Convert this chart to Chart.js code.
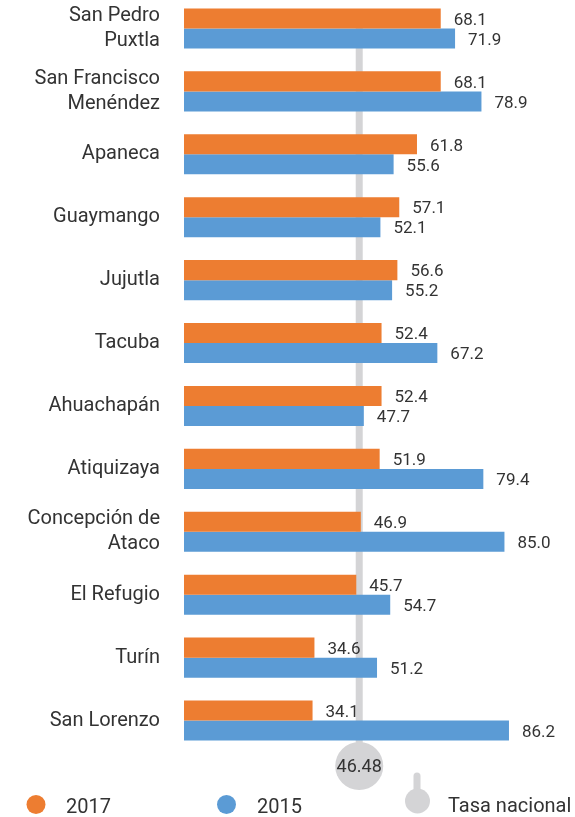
<!DOCTYPE html>
<html>
<head>
<meta charset="utf-8">
<script src="https://cdn.jsdelivr.net/npm/chart.js@4"></script>
<style>
    html, body { margin: 0; padding: 0; background: #fff; }
    #wrap { position: relative; width: 575px; height: 817px; overflow: hidden; }
    #box { position: absolute; left: 0; top: -3px; width: 575px; height: 820px; }
</style>
</head>
<body>
<div id="wrap"><div id="box"><canvas id="chart"></canvas></div></div>
<script>
// --- Data ---
const municipios = [
    ['San Pedro', 'Puxtla'], ['San Francisco', 'Menéndez'], 'Apaneca', 'Guaymango', 'Jujutla', 'Tacuba',
    'Ahuachapán', 'Atiquizaya', ['Concepción de', 'Ataco'], 'El Refugio', 'Turín', 'San Lorenzo'
];
const valores2017 = [68.1, 68.1, 61.8, 57.1, 56.6, 52.4, 52.4, 51.9, 46.9, 45.7, 34.6, 34.1];
const valores2015 = [71.9, 78.9, 55.6, 52.1, 55.2, 67.2, 47.7, 79.4, 85.0, 54.7, 51.2, 86.2];
const tasaNacional = 46.48;
const serieNombres = ['2017', '2015', 'Tasa nacional'];

const ORANGE = '#ED7D31';
const BLUE = '#5B9BD5';
const GRAY = '#D4D4D6';
const TEXT = '#333333';
const FONT = 'Roboto, "Noto Sans", sans-serif';

// --- Value labels next to each bar ---
const valueLabels = {
    id: 'valueLabels',
    afterDatasetsDraw(chart) {
        const ctx = chart.ctx;
        ctx.save();
        ctx.font = '17px ' + FONT;
        ctx.fillStyle = TEXT;
        ctx.textAlign = 'left';
        ctx.textBaseline = 'middle';
        chart.data.datasets.forEach((ds, i) => {
            chart.getDatasetMeta(i).data.forEach((bar, j) => {
                ctx.fillText(ds.data[j].toFixed(1), bar.x + 13, bar.y + 2);
            });
        });
        ctx.restore();
    }
};

// --- National rate line with bubble ---
const nationalLine = {
    id: 'nationalLine',
    beforeDatasetsDraw(chart) {
        const ctx = chart.ctx;
        const area = chart.chartArea;
        const x = chart.scales.x.getPixelForValue(tasaNacional);
        const cy = area.bottom + 14;
        ctx.save();
        ctx.strokeStyle = GRAY;
        ctx.lineWidth = 7;
        ctx.beginPath();
        ctx.moveTo(x, area.top + 12);
        ctx.lineTo(x, cy);
        ctx.stroke();
        ctx.fillStyle = GRAY;
        ctx.beginPath();
        ctx.arc(x, cy, 24, 0, Math.PI * 2);
        ctx.fill();
        ctx.fillStyle = TEXT;
        ctx.font = '18px ' + FONT;
        ctx.textAlign = 'center';
        ctx.textBaseline = 'middle';
        ctx.fillText(tasaNacional.toFixed(2), x, cy + 1);
        ctx.restore();
    }
};

// --- Custom legend at the bottom ---
const bottomLegend = {
    id: 'bottomLegend',
    afterDraw(chart) {
        const ctx = chart.ctx;
        ctx.save();
        ctx.font = '20px ' + FONT;
        ctx.fillStyle = TEXT;
        ctx.textAlign = 'left';
        ctx.textBaseline = 'alphabetic';

        // series dots
        [[36, ORANGE, 66], [226.5, BLUE, 257]].forEach(([cx, color, tx], i) => {
            ctx.fillStyle = color;
            ctx.beginPath();
            ctx.arc(cx, 807.5, 9.5, 0, Math.PI * 2);
            ctx.fill();
            ctx.fillStyle = TEXT;
            ctx.fillText(serieNombres[i], tx, 815.5);
        });

        // national rate icon
        ctx.strokeStyle = GRAY;
        ctx.fillStyle = GRAY;
        ctx.lineWidth = 7;
        ctx.lineCap = 'round';
        ctx.beginPath();
        ctx.moveTo(417, 779);
        ctx.lineTo(417, 800);
        ctx.stroke();
        ctx.beginPath();
        ctx.arc(417.5, 804, 12.5, 0, Math.PI * 2);
        ctx.fill();
        ctx.fillStyle = TEXT;
        ctx.fillText(serieNombres[2], 448, 814.5);
        ctx.restore();
    }
};

const ctx = document.getElementById('chart').getContext('2d');
new Chart(ctx, {
    type: 'bar',
    data: {
        labels: municipios,
        datasets: [
            { label: serieNombres[0], data: valores2017, backgroundColor: ORANGE },
            { label: serieNombres[1], data: valores2015, backgroundColor: BLUE }
        ]
    },
    options: {
        indexAxis: 'y',
        responsive: true,
        maintainAspectRatio: false,
        animation: false,
        datasets: {
            bar: { barPercentage: 1, categoryPercentage: 0.637, borderWidth: 0 }
        },
        layout: { padding: { top: 0, right: 14, bottom: 65, left: 0 } },
        plugins: {
            legend: { display: false },
            tooltip: { enabled: false }
        },
        scales: {
            x: {
                display: false,
                min: 0,
                max: 100
            },
            y: {
                grid: { display: false, drawTicks: false },
                border: { display: false },
                ticks: {
                    padding: 24,
                    color: TEXT,
                    font: { family: FONT, size: 20, lineHeight: 1.25 }
                },
                afterFit(scale) {
                    scale.width = 184;
                    scale.paddingTop = 0;
                    scale.paddingBottom = 0;
                }
            }
        }
    },
    plugins: [nationalLine, valueLabels, bottomLegend]
});
</script>
</body>
</html>
